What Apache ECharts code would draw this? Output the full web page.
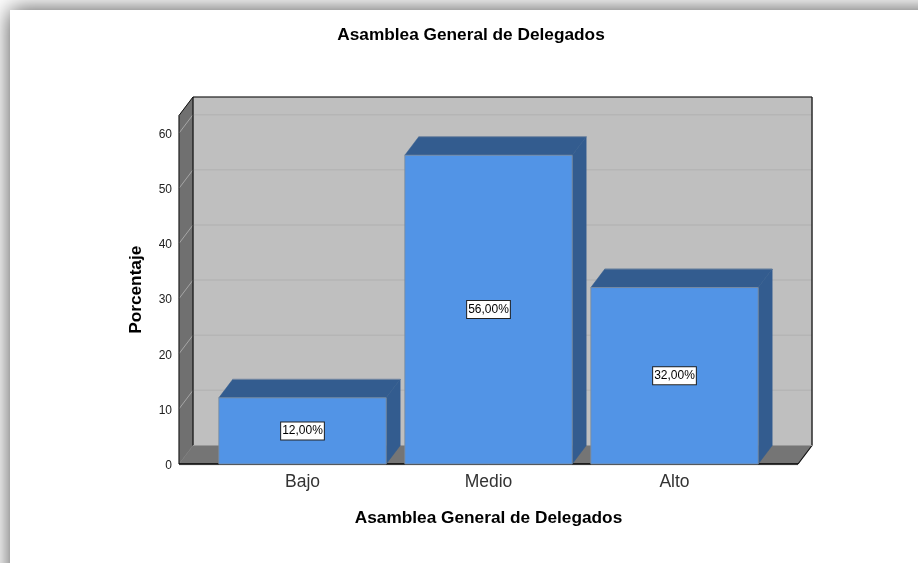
<!DOCTYPE html>
<html><head><meta charset="utf-8">
<style>html,body{margin:0;padding:0;background:#fff}#c{width:918px;height:563px}</style>
<script src="https://cdn.jsdelivr.net/npm/echarts@6/dist/echarts.min.js"></script>
</head><body><div id="c"></div>
<script>
const chartTitle = 'Asamblea General de Delegados';
const xName = 'Asamblea General de Delegados';
const yName = 'Porcentaje';
const categories = ['Bajo', 'Medio', 'Alto'];
const percentages = [12, 56, 32];
const yTicks = [0, 10, 20, 30, 40, 50, 60];
const yMax = 63.2;

const DX = 14, DY = -18.5, SIDE = 30.5;
const FONT = '"Liberation Sans", Arial, sans-serif';
const fmt = v => v.toFixed(2).replace('.', ',') + '%';
const poly = (points, fill, z2) => ({type:'polygon', z2: z2||0, shape:{points}, style:{fill, stroke:fill, lineWidth:0.5}});
const line = (x1,y1,x2,y2,stroke,lineWidth) => ({type:'line', shape:{x1,y1,x2,y2}, style:{stroke,lineWidth}});

function renderBox(params, api) {
  const cs = params.coordSys;
  const L = cs.x - SIDE, R = cs.x + cs.width + SIDE, T = cs.y, B = cs.y + cs.height;
  const children = [
    poly([[L+DX,T+DY],[R+DX,T+DY],[R+DX,B+DY],[L+DX,B+DY]], '#bfbfbf'),
    poly([[L,T],[L+DX,T+DY],[L+DX,B+DY],[L,B]], '#707070'),
    poly([[L,B],[L+DX,B+DY],[R+DX,B+DY],[R,B]], '#757575')
  ];
  yTicks.slice(1).forEach(t => {
    const y = api.coord([0,t])[1];
    children.push(line(L,y,L+DX,y+DY,'#a6a6a6',1));
    children.push(line(L+DX,y+DY,R+DX,y+DY,'#b5b5b5',1.5));
  });
  children.push(
    line(L+DX,T+DY,R+DX,T+DY,'#000',1.2),
    line(R+DX,T+DY,R+DX,B+DY,'#222',1.4),
    line(L+DX,T+DY,L+DX,B+DY,'#111',1.2),
    line(L,T,L+DX,T+DY,'#111',1),
    line(L,T,L,B,'#111',1),
    line(L,B+1,R,B+1,'#ddd',1),
    line(L,B,R,B,'#000',1.5),
    line(R,B,R+DX,B+DY,'#111',1.2),
    line(L+DX,B+DY,R+DX,B+DY,'#999',1)
  );
  return {type:'group', children};
}

function renderBar(params, api) {
  const i = api.value(0), v = api.value(1);
  const c = api.coord([i, v]), b = api.coord([i, 0]);
  const w = api.size([1, 0])[0] * 0.9;
  const x0 = c[0] - w/2, x1 = c[0] + w/2, yT = c[1], yB = b[1];
  const mid = api.coord([i, v/2]);
  const dark = '#335c8f';
  return {type:'group', children:[
    poly([[x1,yT],[x1+DX,yT+DY],[x1+DX,yB+DY],[x1,yB]], dark),
    poly([[x0,yT],[x0+DX,yT+DY],[x1+DX,yT+DY],[x1,yT]], dark),
    line(x0+DX,yT+DY,x1+DX,yT+DY,'#7d8ea3',0.8),
    {type:'rect', shape:{x:x0,y:yT,width:w,height:yB-yT}, style:{fill:'#5294e6', stroke:'#7f8b99', lineWidth:0.8}},
    {type:'text', x:mid[0], y:mid[1], style:{text:fmt(v), x:0, y:0, align:'center', verticalAlign:'middle',
      font:'12px '+FONT, fill:'#000', backgroundColor:'#fff', borderColor:'#222', borderWidth:1, padding:[3,1,2,1]}}
  ]};
}

const chart = echarts.init(document.getElementById('c'), null, {renderer:'canvas'});
chart.setOption({
  animation:false,
  backgroundColor:'#fff',
  title:{text:chartTitle, left:466, top:22, textAlign:'center',
    textStyle:{fontFamily:FONT, fontSize:17.25, fontWeight:'bold', color:'#000'}},
  graphic:[{type:'rect', z:-10, silent:true, shape:{x:10,y:10,width:1200,height:900},
    style:{fill:'#fff', shadowBlur:22, shadowColor:'rgba(0,0,0,0.7)'}}],
  grid:{left:209.5, width:558, top:115.5, bottom:99},
  xAxis:{type:'category', data:categories, name:xName, nameLocation:'middle', nameGap:46,
    nameTextStyle:{fontFamily:FONT, fontSize:17.25, fontWeight:'bold', color:'#000'},
    axisLine:{show:false}, axisTick:{show:false},
    axisLabel:{fontFamily:FONT, fontSize:17.5, color:'#333', margin:9}},
  yAxis:{type:'value', min:0, max:yMax, offset:SIDE, name:yName, nameLocation:'middle', nameGap:34, nameRotate:90,
    nameTextStyle:{fontFamily:FONT, fontSize:17.25, fontWeight:'bold', color:'#000'},
    axisLine:{show:false}, axisTick:{show:false}, splitLine:{show:false},
    axisLabel:{customValues:yTicks, margin:7, formatter:'{v|{value}}',
      rich:{v:{fontFamily:FONT, fontSize:12, color:'#222', padding:[3,0,0,0]}}}},
  series:[
    {type:'custom', renderItem:renderBox, data:[[0,0]], clip:false, silent:true, z:1},
    {type:'custom', renderItem:renderBar, data:percentages.map((v,i)=>[i,v]), clip:false, silent:true, z:2}
  ]
});
</script></body></html>
